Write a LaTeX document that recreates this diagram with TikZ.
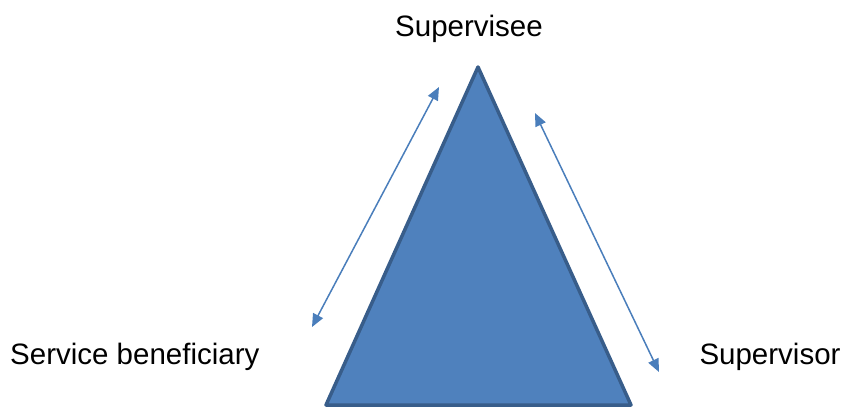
\documentclass[tikz,border=0pt]{standalone}
\usepackage{fontspec}
\setmainfont{Liberation Sans}
\usetikzlibrary{arrows.meta}
\definecolor{triFill}{HTML}{4F81BD}
\definecolor{triEdge}{HTML}{385D8A}
\definecolor{arrowBlue}{HTML}{4A7EBB}
\begin{document}
\begin{tikzpicture}[x=1pt,y=-1pt,
  lbl/.style={inner sep=0pt,anchor=base,font=\fontsize{29.5}{32}\selectfont},
  relarrow/.style={draw=arrowBlue,line width=1.5pt,{Triangle[length=13pt,width=11pt]}-{Triangle[length=13pt,width=11pt]}}]
\useasboundingbox (0,0) rectangle (844,408);
\coordinate (apex) at (478,67);
\coordinate (bl) at (326,405);
\coordinate (br) at (631,405);
\fill[triFill] (apex) -- (br) -- (bl) -- cycle;
\draw[triEdge,line width=3.5pt,line join=round] (apex) -- (br) -- (bl) -- cycle;
\coordinate (la) at (439,87);
\coordinate (lb) at (312,327);
\coordinate (ra) at (535,113);
\coordinate (rb) at (659,372);
\draw[relarrow] (la) -- (lb);
\draw[relarrow] (ra) -- (rb);
\node[lbl] (sup) at (469,36) {Supervisee};
\node[lbl,anchor=base west] (sb) at (10,364) {Service beneficiary};
\node[lbl] (sor) at (770,364) {Supervisor};
\end{tikzpicture}
\end{document}
